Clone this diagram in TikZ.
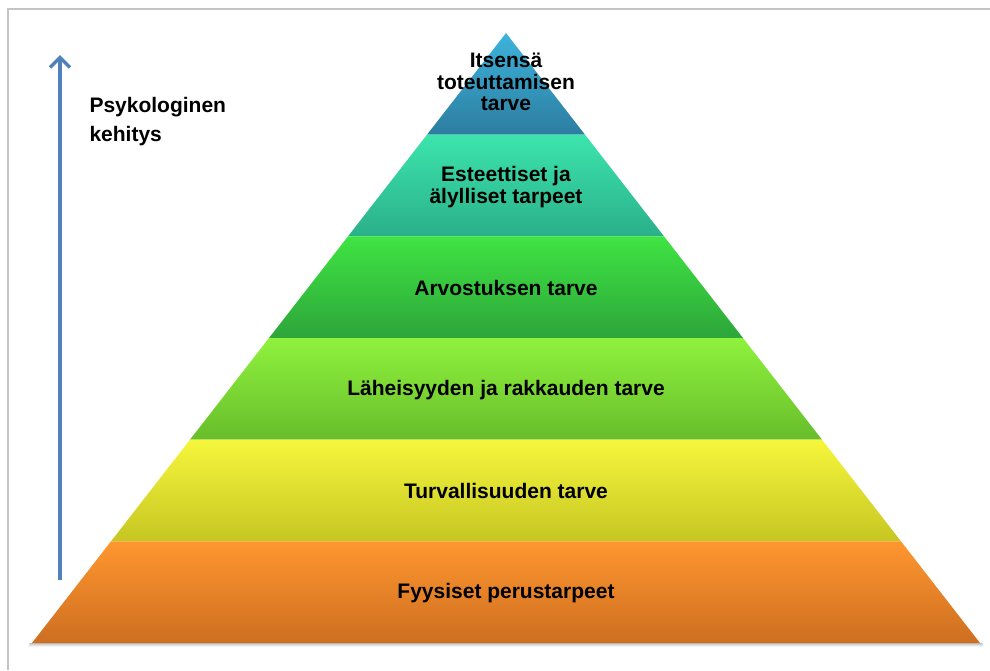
\documentclass[tikz,border=0pt]{standalone}
\usepackage{fontspec}
\setmainfont{Liberation Sans}
\usetikzlibrary{arrows.meta}

% tier colours: light at the top of each band, darker at the bottom
\definecolor{tieraT}{HTML}{3DB3DB}\definecolor{tieraB}{HTML}{2C7DA0}
\definecolor{tierbT}{HTML}{3CE4AC}\definecolor{tierbB}{HTML}{2AB08A}
\definecolor{tiercT}{HTML}{3FE443}\definecolor{tiercB}{HTML}{2DA53A}
\definecolor{tierdT}{HTML}{8FF23D}\definecolor{tierdB}{HTML}{67BD2B}
\definecolor{tiereT}{HTML}{F6F63C}\definecolor{tiereB}{HTML}{C6C623}
\definecolor{tierfT}{HTML}{FF972F}\definecolor{tierfB}{HTML}{CD6E21}
\definecolor{arrowblue}{HTML}{4F81BD}
\definecolor{framegray}{HTML}{C4C4C4}

\tikzset{
  tierlabel/.style={align=center, text=black,
    font=\bfseries\fontsize{21}{21.5}\selectfont},
  sidelabel/.style={align=left, anchor=west, text=black,
    font=\bfseries\fontsize{21}{29}\selectfont},
}

\begin{document}
\begin{tikzpicture}[x=1pt,y=-1pt]
  \useasboundingbox (0,0) rectangle (990,670);
  \fill[white] (0,0) rectangle (990,670);

  % frame
  \draw[framegray, line width=1.5pt] (8,670) -- (8,9) -- (990,9);

  % soft shadow under the base
  \foreach \d/\o in {1/0.10,2/0.08,3/0.06,4/0.04}{
    \fill[black, opacity=\o] (30-\d*0.5,643+\d) -- (982+\d*0.5,643+\d) -- (982,643) -- (30,643) -- cycle;
  }

  % pyramid bands: apex (506,33), base at y=643, half-width 474
  \foreach \k/\ct/\cb in {1/tieraT/tieraB, 2/tierbT/tierbB, 3/tiercT/tiercB,
                          4/tierdT/tierdB, 5/tiereT/tiereB, 6/tierfT/tierfB}{
    \pgfmathsetmacro\ya{33+(\k-1)*610/6}
    \pgfmathsetmacro\yb{33+\k*610/6}
    \pgfmathsetmacro\wa{474*(\k-1)/6}
    \pgfmathsetmacro\wb{474*\k/6}
    \shade[top color=\ct, bottom color=\cb]
      (506-\wa,\ya) -- (506+\wa,\ya) -- (506+\wb,\yb) -- (506-\wb,\yb) -- cycle;
  }

  % band labels
  \node[tierlabel] (selfact)  at (506,82)  {Itsensä\\toteuttamisen\\tarve};
  \node[tierlabel] (aesth)    at (506,187) {Esteettiset ja\\älylliset tarpeet};
  \node[tierlabel] (esteem)   at (506,288) {Arvostuksen tarve};
  \node[tierlabel] (belong)   at (506,390) {Läheisyyden ja rakkauden tarve};
  \node[tierlabel] (safety)   at (506,491) {Turvallisuuden tarve};
  \node[tierlabel] (physio)   at (506,593) {Fyysiset perustarpeet};

  % development arrow and its caption
  \coordinate (devbase) at (60,580);
  \coordinate (devtip)  at (60,55);
  \draw[arrowblue, line width=3.5pt,
        -{Straight Barb[length=10pt,width=20pt,line width=3.5pt]}]
    (devbase) -- (devtip);
  \node[sidelabel] (devlabel) at (86,122) {Psykologinen\\kehitys};
\end{tikzpicture}
\end{document}
